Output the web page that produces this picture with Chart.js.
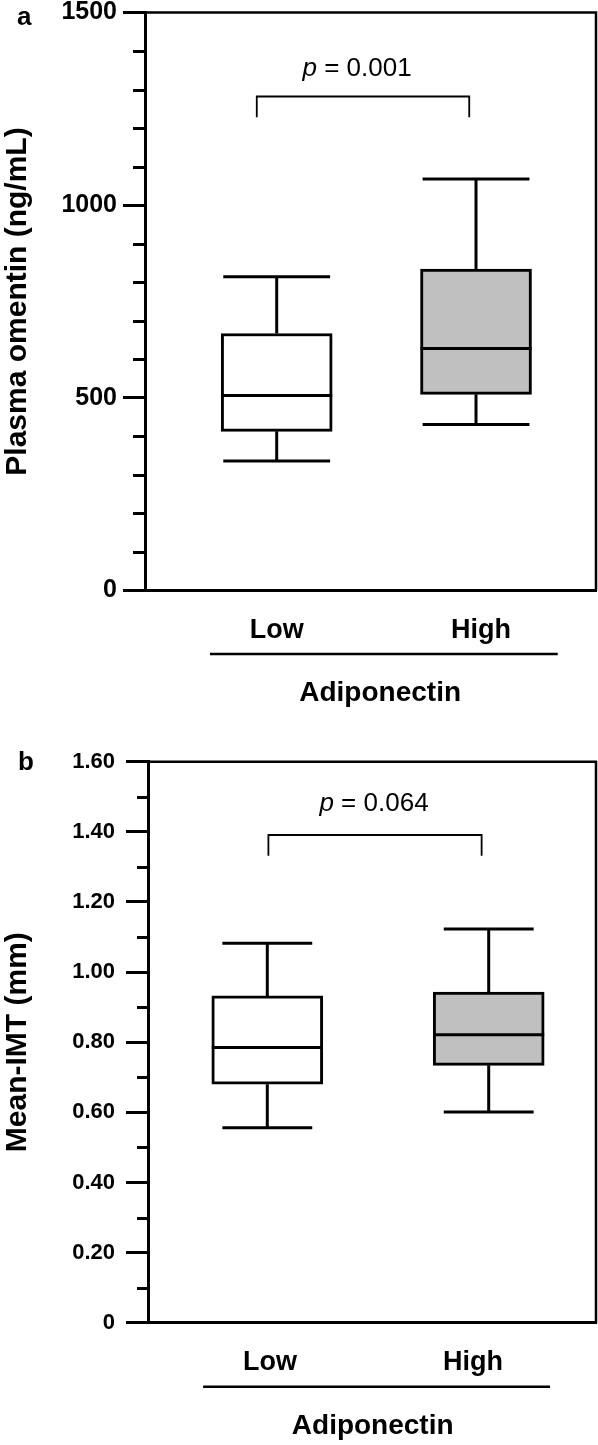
<!DOCTYPE html>
<html>
<head>
<meta charset="utf-8">
<script src="https://cdn.jsdelivr.net/npm/chart.js@4.4.0/dist/chart.umd.min.js"></script>
<style>
html, body { margin: 0; padding: 0; background: #ffffff; }
#wrap { width: 598px; height: 1445px; position: relative; }
canvas { display: block; }
</style>
</head>
<body>
<div id="wrap">
  <canvas id="chartA" width="598" height="722"></canvas>
  <canvas id="chartB" width="598" height="723"></canvas>
</div>
<script>
// ---------------- DATA ----------------
const groups = ['Low', 'High'];
const groupX = [1, 2];
const groupTitle = 'Adiponectin';
const boxColors = ['#ffffff', '#c0c0c0'];

// Panel a: plasma omentin (ng/mL)
const omentinMin = [336, 431];
const omentinQ1 = [413, 509];
const omentinMedian = [506, 628];
const omentinQ3 = [667, 834];
const omentinMax = [814, 1068];
const omentinTickLabels = ['0', '500', '1000', '1500'];
const omentinP = '0.001';

// Panel b: mean IMT (mm)
const imtMin = [0.556, 0.601];
const imtQ1 = [0.680, 0.734];
const imtMedian = [0.785, 0.821];
const imtQ3 = [0.932, 0.943];
const imtMax = [1.082, 1.123];
const imtTickLabels = ['0', '0.20', '0.40', '0.60', '0.80', '1.00', '1.20', '1.40', '1.60'];
const imtP = '0.064';

// ---------------- RENDERING ----------------
const FONT = "'Liberation Sans', Arial, Helvetica, sans-serif";

function buildPanel(canvasId, P) {
  const nTicks = (P.tickLabels.length - 1) * P.majorEvery + 1;
  const tickValues = [];
  for (let i = 0; i < nTicks; i++) tickValues.push(i * P.yMax / (nTicks - 1));

  const boxData = groupX.map((x, i) => ({ x: x, y: [P.q1[i], P.q3[i]] }));
  const whiskers = [], caps = [], medians = [];
  groupX.forEach((x, i) => {
    whiskers.push({ x: x, y: P.q3[i] }, { x: x, y: P.max[i] }, { x: x, y: null },
                  { x: x, y: P.q1[i] }, { x: x, y: P.min[i] }, { x: x, y: null });
    caps.push({ x: x - P.capHalf, y: P.max[i] }, { x: x + P.capHalf, y: P.max[i] }, { x: x, y: null },
              { x: x - P.capHalf, y: P.min[i] }, { x: x + P.capHalf, y: P.min[i] }, { x: x, y: null });
    medians.push({ x: x - P.medHalf, y: P.med[i] }, { x: x + P.medHalf, y: P.med[i] }, { x: x, y: null });
  });
  const bracket = [
    { x: P.bracketX[0], y: P.bracketY[0] }, { x: P.bracketX[0], y: P.bracketY[1] },
    { x: P.bracketX[1], y: P.bracketY[1] }, { x: P.bracketX[1], y: P.bracketY[0] }
  ];

  const lineDs = (label, data, width) => ({
    type: 'line', label: label, data: data, borderColor: '#000000', backgroundColor: 'rgba(0,0,0,0)',
    borderWidth: width, pointRadius: 0, pointHoverRadius: 0, fill: false, tension: 0,
    spanGaps: false, borderCapStyle: 'butt', borderJoinStyle: 'miter', order: 0
  });

  const decor = {
    id: 'decor' + canvasId,
    afterDraw(chart) {
      const { ctx, chartArea: ca, scales } = chart;
      const xs = scales.x, ys = scales.y;
      ctx.save();
      ctx.strokeStyle = '#000000';
      ctx.fillStyle = '#000000';
      // top and right frame
      ctx.lineWidth = 2.5;
      ctx.beginPath();
      ctx.moveTo(ca.left, ca.top);
      ctx.lineTo(ca.right, ca.top);
      ctx.lineTo(ca.right, ca.bottom);
      ctx.stroke();
      // minor ticks
      ctx.lineWidth = 3;
      ys.ticks.forEach((t, i) => {
        if (i % P.majorEvery === 0) return;
        const py = Math.round(ys.getPixelForValue(t.value)) + 0.5;
        ctx.beginPath();
        ctx.moveTo(ca.left - P.minorLen, py);
        ctx.lineTo(ca.left, py);
        ctx.stroke();
      });
      // group underline
      ctx.lineWidth = 2.5;
      const uy = ca.bottom + P.underlineOffset;
      ctx.beginPath();
      ctx.moveTo(xs.getPixelForValue(P.underline[0]), uy);
      ctx.lineTo(xs.getPixelForValue(P.underline[1]), uy);
      ctx.stroke();
      // group title
      ctx.font = 'bold 28px ' + FONT;
      ctx.textAlign = 'center';
      ctx.textBaseline = 'middle';
      ctx.fillText(groupTitle, xs.getPixelForValue(P.groupTitleX), ca.bottom + P.titleOffset);
      // panel letter
      ctx.font = 'bold 26px ' + FONT;
      ctx.textAlign = 'left';
      ctx.textBaseline = 'alphabetic';
      ctx.fillText(P.letter, P.letterPos[0], P.letterPos[1]);
      // p value
      const pItalic = 'italic 26px ' + FONT;
      const pNormal = '26px ' + FONT;
      const rest = ' = ' + P.pValue;
      ctx.font = pItalic;
      const w1 = ctx.measureText('p').width;
      ctx.font = pNormal;
      const w2 = ctx.measureText(rest).width;
      const cx = xs.getPixelForValue(P.pPos[0]);
      const cy = ys.getPixelForValue(P.pPos[1]);
      const sx = cx - (w1 + w2) / 2;
      ctx.textBaseline = 'middle';
      ctx.font = pItalic;
      ctx.fillText('p', sx, cy);
      ctx.font = pNormal;
      ctx.fillText(rest, sx + w1, cy);
      ctx.restore();
    }
  };

  return new Chart(document.getElementById(canvasId), {
    type: 'bar',
    data: {
      datasets: [
        lineDs('Median', medians, 3),
        lineDs('Whiskers', whiskers, 3),
        lineDs('Caps', caps, 3),
        lineDs('Comparison', bracket, 1.8),
        {
          type: 'bar', label: 'IQR', data: boxData, backgroundColor: boxColors,
          borderColor: '#000000', borderWidth: 3, borderSkipped: false,
          barThickness: P.barThickness, order: 1
        }
      ]
    },
    options: {
      responsive: false,
      maintainAspectRatio: false,
      devicePixelRatio: 1,
      animation: false,
      events: [],
      layout: { padding: { top: P.padTop, right: 2, bottom: 0, left: 0 } },
      plugins: { legend: { display: false }, tooltip: { enabled: false }, title: { display: false } },
      scales: {
        x: {
          type: 'linear', position: 'bottom', min: P.xMin, max: P.xMax, offset: false,
          grid: { display: false, offset: false },
          border: { display: true, width: 3, color: '#000000' },
          afterBuildTicks: s => { s.ticks = P.labelX.map(v => ({ value: v })); },
          ticks: {
            autoSkip: false, maxRotation: 0, minRotation: 0, padding: 16, color: '#000000',
            font: { family: FONT, size: 27, weight: 'bold' },
            callback: (v, i) => groups[i]
          },
          afterFit: s => { s.height = P.xAxisHeight; s.paddingLeft = 0; s.paddingRight = 0; }
        },
        y: {
          type: 'linear', position: 'left', min: 0, max: P.yMax,
          grid: {
            drawOnChartArea: false, drawTicks: true, tickLength: 22, tickWidth: 3,
            tickColor: c => (c.index % P.majorEvery === 0 ? '#000000' : 'rgba(0,0,0,0)')
          },
          border: { display: true, width: 3, color: '#000000' },
          afterBuildTicks: s => { s.ticks = tickValues.map(v => ({ value: v })); },
          ticks: {
            autoSkip: false, padding: P.tickPad, color: '#000000',
            font: { family: FONT, size: P.tickFont, weight: 'bold' },
            callback: (v, i) => (i % P.majorEvery === 0 ? P.tickLabels[i / P.majorEvery] : '')
          },
          title: {
            display: true, text: P.yTitle, color: '#000000', padding: 0,
            font: { family: FONT, size: 30, weight: 'bold' }
          },
          afterFit: s => { s.width = P.yAxisWidth; s.paddingTop = 0; s.paddingBottom = 0; }
        }
      }
    },
    plugins: [decor]
  });
}

buildPanel('chartA', {
  q1: omentinQ1, q3: omentinQ3, med: omentinMedian, min: omentinMin, max: omentinMax,
  tickLabels: omentinTickLabels, pValue: omentinP, yTitle: 'Plasma omentin (ng/mL)', letter: 'a',
  padTop: 12.5, xMin: 0.3392, xMax: 2.602, yMax: 1500, majorEvery: 5,
  tickFont: 25, tickPad: 6, yAxisWidth: 145, xAxisHeight: 131.5, minorLen: 12,
  capHalf: 0.268, medHalf: 0.2785, barThickness: 111, labelX: [1.0, 2.025],
  bracketX: [0.9, 1.966], bracketY: [1228, 1282], pPos: [1.403, 1354],
  underline: [0.665, 2.41], underlineOffset: 63.5, groupTitleX: 1.519, titleOffset: 102.5,
  letterPos: [17, 25]
});

buildPanel('chartB', {
  q1: imtQ1, q3: imtQ3, med: imtMedian, min: imtMin, max: imtMax,
  tickLabels: imtTickLabels, pValue: imtP, yTitle: 'Mean-IMT (mm)', letter: 'b',
  padTop: 39.7, xMin: 0.4612, xMax: 2.4846, yMax: 1.6, majorEvery: 2,
  tickFont: 22, tickPad: 11, yAxisWidth: 148, xAxisHeight: 122.3, minorLen: 11,
  capHalf: 0.203, medHalf: 0.2507, barThickness: 111, labelX: [1.012, 1.929],
  bracketX: [1.005, 1.968], bracketY: [1.332, 1.391], pPos: [1.482, 1.479],
  underline: [0.71, 2.277], underlineOffset: 64, groupTitleX: 1.476, titleOffset: 104,
  letterPos: [18, 48]
});
</script>
</body>
</html>
